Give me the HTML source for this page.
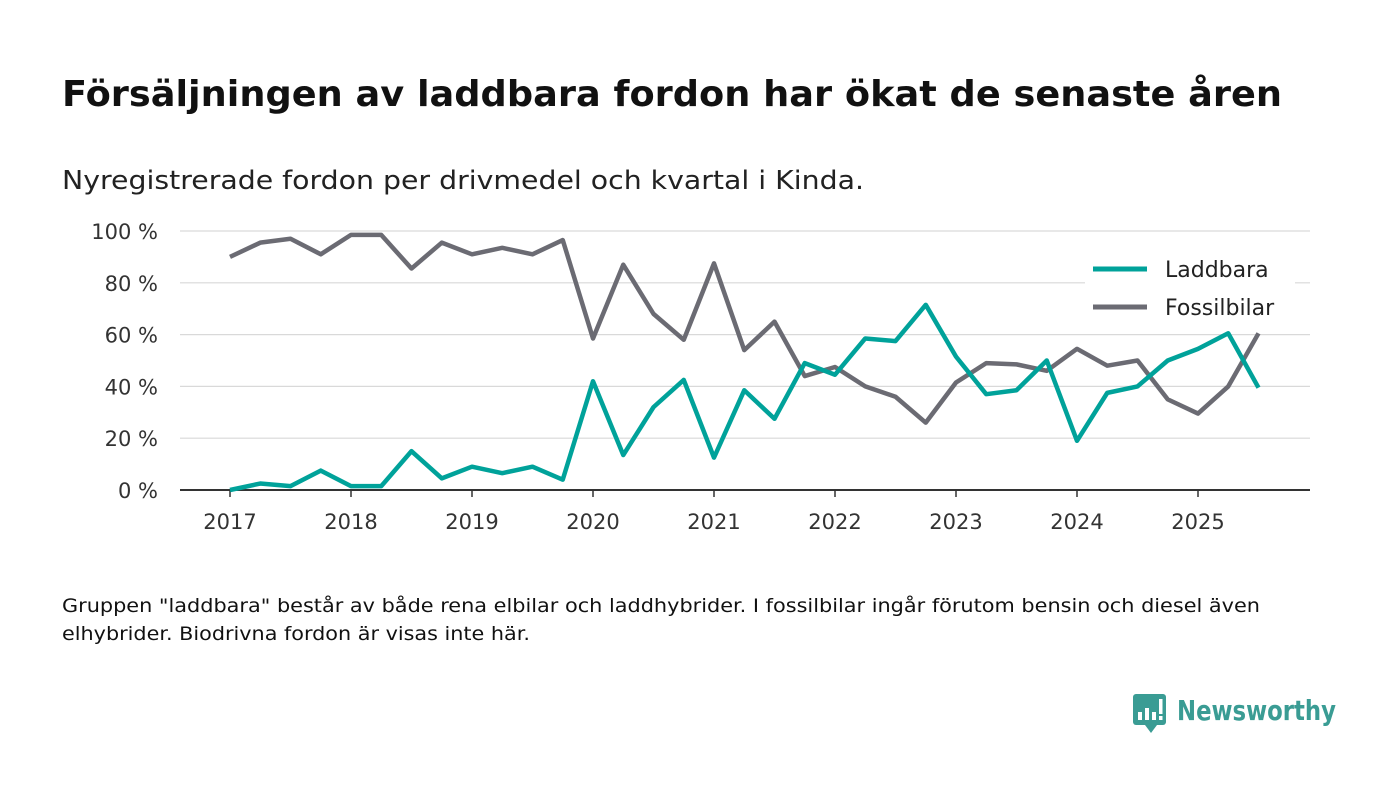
<!DOCTYPE html>
<html><head><meta charset="utf-8"><style>
body{margin:0;background:#fff;width:1400px;height:793px;overflow:hidden}
svg text{font-family:"DejaVu Sans","Liberation Sans",sans-serif}
</style></head><body>
<svg id="chart" width="1400" height="793" xmlns="http://www.w3.org/2000/svg">
<text x="62" y="106" font-size="36" font-weight="bold" fill="#111" textLength="1220" lengthAdjust="spacingAndGlyphs">Försäljningen av laddbara fordon har ökat de senaste åren</text>
<text x="62" y="189" font-size="26" fill="#222" textLength="802" lengthAdjust="spacingAndGlyphs">Nyregistrerade fordon per drivmedel och kvartal i Kinda.</text>
<g id="grid"></g><g id="axes"></g><g id="lines"></g>
<g>
<rect x="1085" y="252" width="210" height="75" fill="#fff"/>
<line x1="1093" y1="269" x2="1147" y2="269" stroke="#00a29a" stroke-width="5"/>
<text x="1165" y="277" font-size="22" fill="#222">Laddbara</text>
<line x1="1093" y1="307" x2="1147" y2="307" stroke="#6b6b73" stroke-width="5"/>
<text x="1165" y="315" font-size="22" fill="#222">Fossilbilar</text>
</g>
<text font-size="19" fill="#111"><tspan x="62" y="612" textLength="1198" lengthAdjust="spacingAndGlyphs">Gruppen "laddbara" består av både rena elbilar och laddhybrider. I fossilbilar ingår förutom bensin och diesel även</tspan><tspan x="62" y="640" textLength="468" lengthAdjust="spacingAndGlyphs">elhybrider. Biodrivna fordon är visas inte här.</tspan></text>
<g>
<rect x="1133" y="694" width="33" height="31" rx="3" fill="#3a9c94"/>
<path d="M1145 725 L1151 733 L1157 725 Z" fill="#3a9c94"/>
<rect x="1138" y="712" width="4" height="8" fill="#fff"/><rect x="1145" y="708" width="4" height="12" fill="#fff"/><rect x="1152" y="712" width="4" height="8" fill="#fff"/><rect x="1159" y="699" width="3.5" height="15" fill="#fff"/><rect x="1159" y="716" width="3.5" height="4" fill="#fff"/>
<text x="1177" y="720" font-size="28" font-weight="bold" fill="#3a9c94" textLength="159" lengthAdjust="spacingAndGlyphs">Newsworthy</text>
</g>
</svg>
<script>
const laddbara=[0,2.5,1.5,7.5,1.5,1.5,15,4.5,9,6.5,9,4,42,13.5,32,42.5,12.5,38.5,27.5,49,44.5,58.5,57.5,71.5,51.5,37,38.5,50,19,37.5,40,50,54.5,60.5,39.5];
const fossil=[90,95.5,97,91,98.5,98.5,85.5,95.5,91,93.5,91,96.5,58.5,87,68,58,87.5,54,65,44,47.5,40,36,26,41.5,49,48.5,46,54.5,48,50,35,29.5,40,60.5];
const yTicks=[0,20,40,60,80,100];
const yearLabels=["2017","2018","2019","2020","2021","2022","2023","2024","2025"];
const NS="http://www.w3.org/2000/svg";
const x=i=>230+i*121/4, y=v=>490-v*2.59;
function mk(tag,attrs,parent){const e=document.createElementNS(NS,tag);for(const k in attrs)e.setAttribute(k,attrs[k]);parent.appendChild(e);return e;}
const grid=document.getElementById('grid'),axes=document.getElementById('axes'),lines=document.getElementById('lines');
yTicks.forEach(t=>{
 if(t>0){const l=mk('line',{x1:180,x2:1310,y1:y(t),y2:y(t),stroke:'#d9d9d9','stroke-width':1.2},grid);
 
 }
 const tx=mk('text',{x:158,y:y(t)+8,'font-size':21,fill:'#333','text-anchor':'end'},axes);tx.textContent=t+' %';
 
 
});
const ax=mk('line',{x1:180,x2:1310,y1:490,y2:490,stroke:'#333','stroke-width':2},axes);


yearLabels.forEach((lab,i)=>{
 mk('line',{x1:x(i*4),x2:x(i*4),y1:490,y2:497,stroke:'#333','stroke-width':1.5},axes);
 const tx=mk('text',{x:x(i*4),y:529,'font-size':21,fill:'#333','text-anchor':'middle'},axes);tx.textContent=lab;
 
 
});
function line(data,color,name){
 const p=mk('polyline',{points:data.map((v,i)=>x(i)+','+y(v)).join(' '),fill:'none',stroke:color,'stroke-width':4.5,'stroke-linejoin':'round'},lines);
 
 
}
line(fossil,'#6b6b73','fossil-line');
line(laddbara,'#00a29a','laddbara-line');
</script>
</body></html>
